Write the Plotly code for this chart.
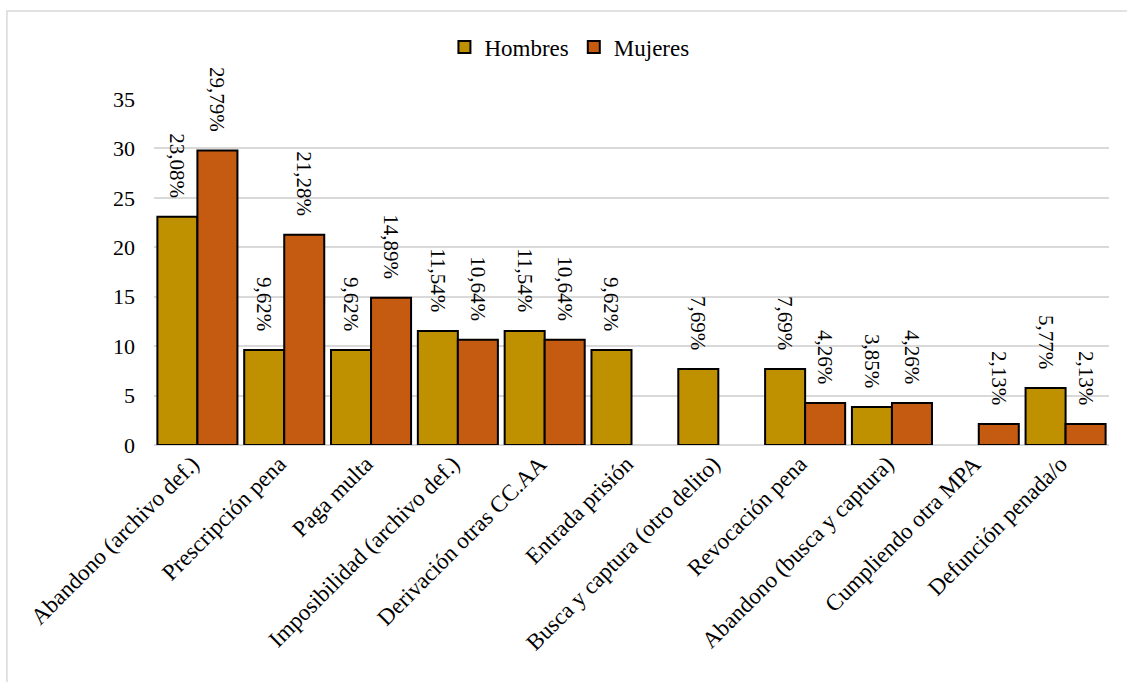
import plotly.graph_objects as go

# Motivos de finalización, porcentaje por sexo
categorias = [
    "Abandono (archivo def.)",
    "Prescripción pena",
    "Paga multa",
    "Imposibilidad (archivo def.)",
    "Derivación otras CC.AA",
    "Entrada prisión",
    "Busca y captura (otro delito)",
    "Revocación pena",
    "Abandono (busca y captura)",
    "Cumpliendo otra MPA",
    "Defunción penada/o",
]
hombres = [23.08, 9.62, 9.62, 11.54, 11.54, 9.62, 7.69, 7.69, 3.85, None, 5.77]
mujeres = [29.79, 21.28, 14.89, 10.64, 10.64, None, None, 4.26, 4.26, 2.13, 2.13]
ticks_y = [0, 5, 10, 15, 20, 25, 30, 35]

FONT = "Liberation Serif, Times New Roman, serif"
GRID = "#D9D9D9"
# non-breaking spaces keep the rotated labels a little above the bar tops
etiqueta = "%{y:.2f}%" + "\u00a0" * 3

fig = go.Figure()
for nombre, valores, color in [
    ("Hombres", hombres, "#BF9000"),
    ("Mujeres", mujeres, "#C55A11"),
]:
    fig.add_trace(go.Bar(
        name=nombre,
        x=categorias,
        y=valores,
        marker=dict(color=color, line=dict(color="#000000", width=2)),
        texttemplate=etiqueta,
        textposition="outside",
        textangle=90,
        constraintext="none",
        textfont=dict(family=FONT, size=21, color="#000000"),
        cliponaxis=False,
        hoverinfo="skip",
    ))

fig.update_layout(
    width=1127,
    height=682,
    barmode="group",
    bargap=0.078,
    bargroupgap=0,
    separators=",.",
    paper_bgcolor="#FFFFFF",
    plot_bgcolor="#FFFFFF",
    margin=dict(l=154, r=18, t=99, b=237),
    font=dict(family=FONT, color="#000000"),
    legend=dict(
        orientation="h",
        x=0.435, xanchor="center",
        y=1.15, yanchor="middle",
        font=dict(family=FONT, size=23, color="#000000"),
        itemwidth=30,
        bgcolor="rgba(0,0,0,0)",
    ),
    xaxis=dict(
        tickangle=-45,
        tickfont=dict(family=FONT, size=23, color="#000000"),
        showgrid=False,
        showline=False,
        ticks="",
        ticklabelshift=-5,
    ),
    yaxis=dict(
        range=[0, 35],
        tickvals=ticks_y,
        tickfont=dict(family=FONT, size=22, color="#000000"),
        showgrid=True,
        gridcolor=GRID,
        gridwidth=1.5,
        zeroline=True,
        zerolinecolor=GRID,
        zerolinewidth=2,
        ticks="",
        ticklen=0,
        ticklabelstandoff=18,
    ),
    shapes=[dict(
        type="rect",
        xref="paper", yref="paper",
        x0=-0.154, x1=1.03,
        y0=-0.72, y1=1.254,
        line=dict(color=GRID, width=1.5),
        fillcolor="rgba(0,0,0,0)",
        layer="below",
    )],
)

fig.write_html("out.html")
